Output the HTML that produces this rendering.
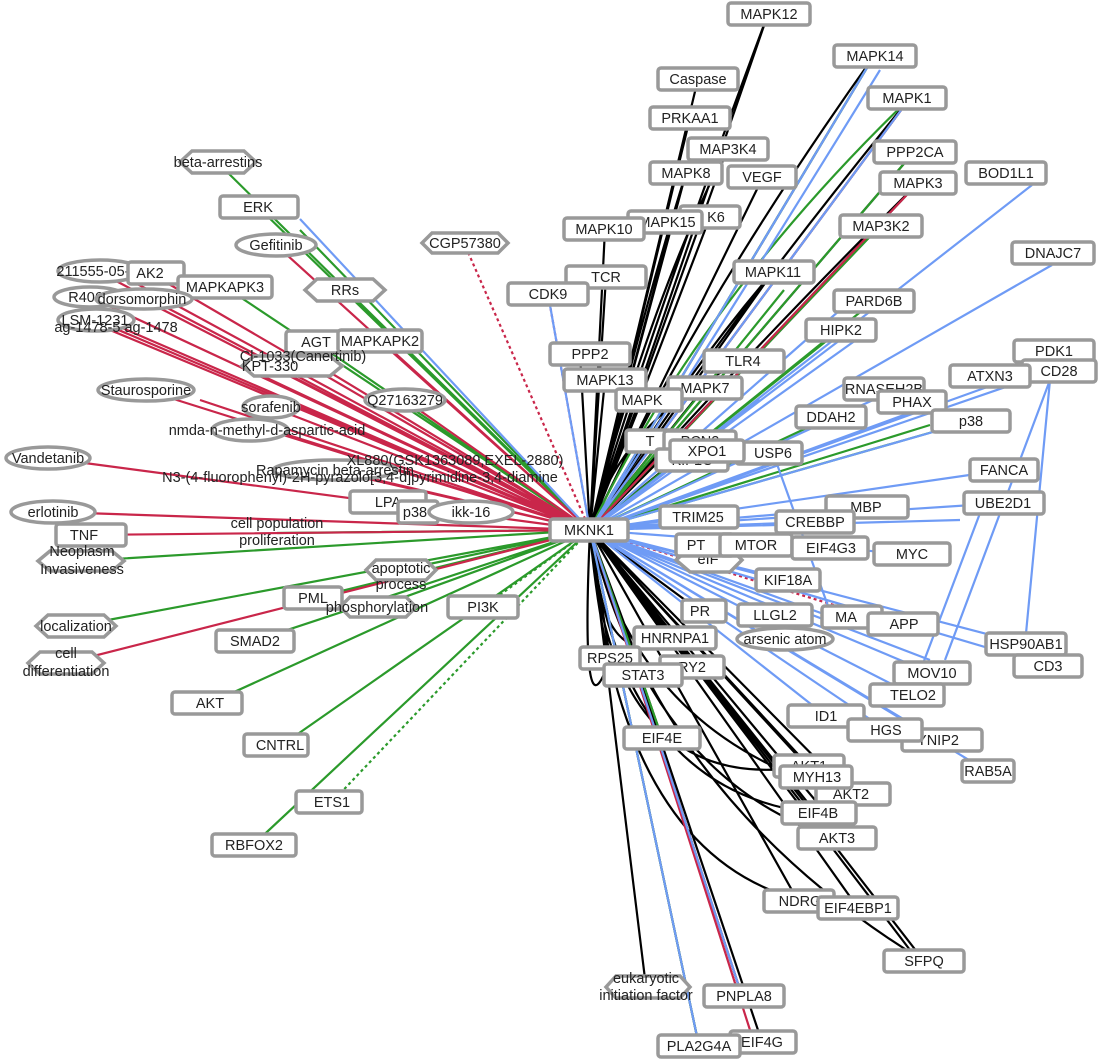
<!DOCTYPE html>
<html><head><meta charset="utf-8"><style>
html,body{margin:0;padding:0;background:#fff;}
svg{display:block;font-family:"Liberation Sans",sans-serif;font-size:14.5px;}
.n rect,.n ellipse,.n polygon{fill:#fff;stroke:#999;stroke-width:3.5;}
.n rect{rx:3;}
text{text-anchor:middle;fill:#222;}
</style></head><body>
<svg width="1099" height="1060" viewBox="0 0 1099 1060">
<g fill="none" stroke-width="2.2">
<path stroke="#000" d="M590 530L768 14M590 530L874 56M590 530L698 79M590 530L910 98M590 530L690 118M590 530L727 149M590 530L914 152M590 530L686 173M590 530L763 177M590 530L918 183M590 530L710 217M590 530L672 222M590 530L605 229M590 530L880 226M590 530L606 277M590 530L773 272M590 530L580 354M590 530L605 380M590 530L642 400M590 530L704 388M590 530L700 440M590 530L660 460M590 530L675 638M590 530L610 658M590 530L692 667M590 530L643 675M590 530L809 766M590 530L817 777M590 530L851 794M590 530L813 813M590 530L836 838M590 530L798 901M590 530L858 908M590 530L924 961M590 530L646 987M590 530L742 996M590 530L699 1046M590 530L762 1042M590 530L700 611M590 530L662 738M590 530L840 830M590 530L910 950
M590 530Q700 300 874 56M590 530Q720 330 910 98M590 530Q740 360 918 183M590 530Q730 380 880 226M590 530Q680 380 773 272M590 530Q650 330 768 14M590 530Q640 320 686 173M590 530Q650 300 727 149M590 530Q620 420 743 361M590 530Q610 800 809 766M590 530Q640 740 851 794M590 530Q620 790 813 813M590 530Q650 780 836 838M590 530Q660 800 924 961M590 530Q620 900 858 908M590 530Q600 680 675 638M590 530Q580 750 610 658M590 530Q640 600 692 667"/>
<path stroke="#2b9a2b" d="M590 530L217 162M590 530L258 207M590 530L225 287M590 530L345 290M590 530L315 342M590 530L874 56M590 530L914 152M590 530L880 226M590 530L874 301M590 530L840 330M590 530L82 561M590 530L277 533M590 530L76 626M590 530L254 641M590 530L210 703M590 530L282 745M590 530L253 845M590 530L313 598M590 530L377 607M590 530L401 570M590 530L971 421M590 530L830 417M590 530L699 1046M590 530L662 738M590 530L784 290M590 530L930 425M590 530L300 230M590 530Q700 300 910 98"/>
<path stroke="#2b9a2b" stroke-dasharray="3,3" d="M590 530L332 802M590 530L483 607"/>
<path stroke="#c9264a" d="M590 530L150 273M590 530L97 271M590 530L90 297M590 530L142 299M590 530L95 320M590 530L120 327M590 530L145 390M590 530L271 407M590 530L267 430M590 530L47 458M590 530L53 512M590 530L84 535M590 530L360 477M590 530L303 356M590 530L270 366M590 530L276 245M590 530L380 341M590 530L66 663M590 530L405 400M590 530L918 183M590 530L910 98M590 530L742 996M590 530L750 1030M590 530L335 470M590 530L110 330M590 530L130 280M590 530L200 400M590 530L250 370"/>
<path stroke="#c9264a" stroke-dasharray="3,3" d="M590 530L464 243M590 530L548 294M590 530L850 610"/>
<path stroke="#6f9bf5" d="M590 530L300 219M590 530L874 56M590 530L910 98M590 530L1032 185M590 530L1052 265M590 530L548 294M590 530L840 340M590 530L870 330M590 530L1055 370M590 530L990 386M590 530L884 395M590 530L912 412M590 530L940 430M590 530L1004 470M590 530L1003 503M590 530L867 507M590 530L697 517M590 530L813 522M590 530L831 548M590 530L911 554M590 530L788 580M590 530L908 624M590 530L1025 644M590 530L931 673M590 530L1049 666M590 530L913 695M590 530L826 716M590 530L886 730M590 530L938 740M590 530L987 771M590 530L742 996M590 530L699 1046M590 530L832 617M590 530L774 615M590 530L930 660M1050 380L1025 644M1050 380L945 660M985 500L913 690M773 453L832 617M590 530Q720 330 880 70M590 530L840 310M590 530L760 400M590 530L960 520"/>
</g>
<g class="n">
<rect x="728" y="3" width="82" height="22"/><text x="769" y="19">MAPK12</text>
<rect x="834" y="45" width="82" height="22"/><text x="875" y="61">MAPK14</text>
<rect x="658" y="68" width="80" height="22"/><text x="698" y="84">Caspase</text>
<rect x="868" y="87" width="78" height="22"/><text x="907" y="103">MAPK1</text>
<rect x="650" y="107" width="80" height="22"/><text x="690" y="123">PRKAA1</text>
<rect x="688" y="138" width="80" height="22"/><text x="728" y="154">MAP3K4</text>
<rect x="874" y="141" width="82" height="22"/><text x="915" y="157">PPP2CA</text>
<polygon points="180,162 192,151 244,151 256,162 244,173 192,173"/><text x="218" y="167">beta-arrestins</text>
<rect x="728" y="166" width="68" height="22"/><text x="762" y="182">VEGF</text>
<rect x="650" y="162" width="72" height="22"/><text x="686" y="178">MAPK8</text>
<rect x="880" y="172" width="76" height="22"/><text x="918" y="188">MAPK3</text>
<rect x="966" y="162" width="80" height="22"/><text x="1006" y="178">BOD1L1</text>
<rect x="220" y="196" width="78" height="22"/><text x="258" y="212">ERK</text>
<rect x="680" y="206" width="60" height="22"/><text x="716" y="222">K6</text>
<rect x="628" y="211" width="74" height="22"/><text x="667" y="227">MAPK15</text>
<rect x="564" y="218" width="80" height="22"/><text x="604" y="234">MAPK10</text>
<rect x="840" y="215" width="82" height="22"/><text x="881" y="231">MAP3K2</text>
<polygon points="422,243 432,233 498,233 508,243 498,253 432,253"/><text x="465" y="248">CGP57380</text>
<ellipse cx="276" cy="245" rx="40" ry="11"/><text x="276" y="250">Gefitinib</text>
<rect x="1012" y="242" width="82" height="22"/><text x="1053" y="258">DNAJC7</text>
<ellipse cx="100" cy="271" rx="42" ry="11"/><text x="97" y="276">211555-05-4</text>
<rect x="128" y="262" width="56" height="22"/><text x="150" y="278">AK2</text>
<rect x="566" y="266" width="80" height="22"/><text x="606" y="282">TCR</text>
<rect x="734" y="261" width="80" height="22"/><text x="773" y="277">MAPK11</text>
<rect x="178" y="276" width="94" height="22"/><text x="225" y="292">MAPKAPK3</text>
<polygon points="305,290 317,279 373,279 385,290 373,301 317,301"/><text x="345" y="295">RRs</text>
<rect x="508" y="283" width="80" height="22"/><text x="548" y="299">CDK9</text>
<ellipse cx="90" cy="297" rx="36" ry="10"/><text x="88" y="302">R406(</text>
<ellipse cx="144" cy="299" rx="48" ry="10"/><text x="142" y="304">dorsomorphin</text>
<rect x="834" y="290" width="80" height="22"/><text x="874" y="306">PARD6B</text>
<ellipse cx="96" cy="320" rx="38" ry="11"/><text x="95" y="325">LSM-1231</text>
<text x="116" y="332">ag-1478-5      ag-1478</text>
<rect x="806" y="319" width="70" height="22"/><text x="841" y="335">HIPK2</text>
<rect x="286" y="331" width="58" height="22"/><text x="316" y="347">AGT</text>
<rect x="338" y="330" width="84" height="22"/><text x="380" y="346">MAPKAPK2</text>
<rect x="1014" y="340" width="80" height="22"/><text x="1054" y="356">PDK1</text>
<rect x="1022" y="360" width="74" height="22"/><text x="1059" y="376">CD28</text>
<polygon points="242,366 254,356 330,356 342,366 330,376 254,376"/><text x="270" y="371">KPT-330</text>
<text x="303" y="361">Cl-1033(Canertinib)</text>
<rect x="550" y="343" width="80" height="22"/><text x="590" y="359">PPP2</text>
<rect x="704" y="350" width="80" height="22"/><text x="743" y="366">TLR4</text>
<rect x="564" y="369" width="82" height="22"/><text x="605" y="385">MAPK13</text>
<rect x="668" y="377" width="74" height="22"/><text x="705" y="393">MAPK7</text>
<rect x="844" y="378" width="80" height="22"/><text x="884" y="394">RNASEH2B</text>
<rect x="950" y="365" width="80" height="22"/><text x="990" y="381">ATXN3</text>
<ellipse cx="146" cy="390" rx="48" ry="11"/><text x="146" y="395">Staurosporine</text>
<rect x="878" y="391" width="68" height="22"/><text x="912" y="407">PHAX</text>
<rect x="616" y="389" width="66" height="22"/><text x="642" y="405">MAPK</text>
<ellipse cx="405" cy="400" rx="40" ry="11"/><text x="405" y="405">Q27163279</text>
<ellipse cx="271" cy="407" rx="28" ry="11"/><text x="271" y="412">sorafenib</text>
<rect x="932" y="410" width="78" height="22"/><text x="971" y="426">p38</text>
<ellipse cx="250" cy="430" rx="38" ry="11"/><text x="267" y="435">nmda-n-methyl-d-aspartic-acid</text>
<rect x="796" y="406" width="70" height="22"/><text x="831" y="422">DDAH2</text>
<rect x="626" y="430" width="60" height="22"/><text x="650" y="446">T</text>
<rect x="664" y="431" width="72" height="22"/><text x="700" y="446">PCN2</text>
<rect x="656" y="449" width="72" height="22"/><text x="692" y="465">KIF1C</text>
<rect x="736" y="442" width="66" height="22"/><text x="773" y="458">USP6</text>
<rect x="670" y="440" width="74" height="22"/><text x="707" y="456">XPO1</text>
<ellipse cx="48" cy="458" rx="42" ry="11"/><text x="48" y="463">Vandetanib</text>
<ellipse cx="335" cy="470" rx="62" ry="10"/><text x="455" y="465">XL880(GSK1363089,EXEL-2880)</text>
<text x="335" y="475">Rapamycin beta-arrestin</text>
<text x="360" y="482">N3-(4-fluorophenyl)-2H-pyrazolo[3,4-d]pyrimidine-3,4-diamine</text>
<rect x="970" y="459" width="68" height="22"/><text x="1004" y="475">FANCA</text>
<rect x="350" y="491" width="76" height="22"/><text x="388" y="507">LPA</text>
<rect x="964" y="492" width="80" height="22"/><text x="1003" y="508">UBE2D1</text>
<rect x="826" y="496" width="82" height="22"/><text x="866" y="512">MBP</text>
<rect x="398" y="501" width="40" height="22"/><text x="415" y="517">p38</text>
<ellipse cx="471" cy="512" rx="42" ry="11"/><text x="471" y="517">ikk-16</text>
<ellipse cx="53" cy="512" rx="42" ry="11"/><text x="53" y="517">erlotinib</text>
<rect x="660" y="506" width="78" height="22"/><text x="698" y="522">TRIM25</text>
<rect x="776" y="511" width="78" height="22"/><text x="815" y="527">CREBBP</text>
<rect x="550" y="519" width="78" height="22"/><text x="589" y="535">MKNK1</text>
<text x="277" y="528">cell population</text><text x="277" y="545">proliferation</text>
<rect x="56" y="524" width="70" height="22"/><text x="84" y="540">TNF</text>
<polygon points="676,560 690,548 730,548 742,560 730,572 690,572"/><text x="708" y="564">eIF</text>
<rect x="676" y="534" width="58" height="22"/><text x="696" y="550">PT</text>
<rect x="720" y="534" width="72" height="22"/><text x="756" y="550">MTOR</text>
<rect x="792" y="537" width="76" height="22"/><text x="831" y="553">EIF4G3</text>
<rect x="874" y="543" width="76" height="22"/><text x="912" y="559">MYC</text>
<polygon points="38,561 50,551 112,551 124,561 112,571 50,571"/><text x="82" y="556">Neoplasm</text><text x="82" y="574">Invasiveness</text>
<polygon points="366,570 376,560 426,560 436,570 426,580 376,580"/><text x="401" y="573">apoptotic</text><text x="401" y="589">process</text>
<rect x="756" y="569" width="64" height="22"/><text x="788" y="585">KIF18A</text>
<rect x="284" y="587" width="58" height="22"/><text x="313" y="603">PML</text>
<polygon points="340,607 350,597 406,597 416,607 406,617 350,617"/><text x="377" y="612">phosphorylation</text>
<rect x="448" y="596" width="70" height="22"/><text x="483" y="612">PI3K</text>
<polygon points="36,626 48,615 104,615 116,626 104,637 48,637"/><text x="76" y="631">localization</text>
<rect x="682" y="600" width="44" height="22"/><text x="700" y="616">PR</text>
<rect x="738" y="604" width="74" height="22"/><text x="775" y="620">LLGL2</text>
<rect x="822" y="606" width="60" height="22"/><text x="846" y="622">MA</text>
<rect x="868" y="613" width="70" height="22"/><text x="904" y="629">APP</text>
<ellipse cx="785" cy="639" rx="48" ry="11"/><text x="785" y="644">arsenic atom</text>
<rect x="216" y="630" width="78" height="22"/><text x="255" y="646">SMAD2</text>
<rect x="634" y="627" width="82" height="22"/><text x="675" y="643">HNRNPA1</text>
<rect x="986" y="633" width="80" height="22"/><text x="1026" y="649">HSP90AB1</text>
<polygon points="28,663 40,652 92,652 104,663 92,674 40,674"/><text x="66" y="658">cell</text><text x="66" y="676">differentiation</text>
<rect x="580" y="647" width="60" height="22"/><text x="610" y="663">RPS25</text>
<rect x="660" y="656" width="64" height="22"/><text x="692" y="672">RY2</text>
<rect x="604" y="664" width="78" height="22"/><text x="643" y="680">STAT3</text>
<rect x="1014" y="655" width="68" height="22"/><text x="1048" y="671">CD3</text>
<rect x="894" y="662" width="76" height="22"/><text x="932" y="678">MOV10</text>
<rect x="870" y="684" width="74" height="22"/><text x="913" y="700">TELO2</text>
<rect x="172" y="692" width="70" height="22"/><text x="210" y="708">AKT</text>
<rect x="788" y="705" width="76" height="22"/><text x="826" y="721">ID1</text>
<rect x="902" y="729" width="80" height="22"/><text x="938" y="745">YNIP2</text>
<rect x="848" y="719" width="74" height="22"/><text x="886" y="735">HGS</text>
<rect x="624" y="727" width="76" height="22"/><text x="662" y="743">EIF4E</text>
<rect x="244" y="734" width="64" height="22"/><text x="280" y="750">CNTRL</text>
<rect x="962" y="760" width="52" height="22"/><text x="988" y="776">RAB5A</text>
<rect x="774" y="755" width="70" height="22"/><text x="809" y="771">AKT1</text>
<rect x="816" y="783" width="74" height="22"/><text x="851" y="799">AKT2</text>
<rect x="780" y="766" width="72" height="22"/><text x="817" y="782">MYH13</text>
<rect x="296" y="791" width="66" height="22"/><text x="332" y="807">ETS1</text>
<rect x="782" y="802" width="74" height="22"/><text x="818" y="818">EIF4B</text>
<rect x="212" y="834" width="84" height="22"/><text x="254" y="850">RBFOX2</text>
<rect x="798" y="827" width="78" height="22"/><text x="837" y="843">AKT3</text>
<rect x="764" y="890" width="70" height="22"/><text x="800" y="906">NDRG</text>
<rect x="818" y="897" width="80" height="22"/><text x="858" y="913">EIF4EBP1</text>
<rect x="884" y="950" width="80" height="22"/><text x="924" y="966">SFPQ</text>
<polygon points="606,987 616,976 680,976 690,987 680,998 616,998"/><text x="646" y="983">eukaryotic</text><text x="646" y="1000">initiation factor</text>
<rect x="704" y="985" width="80" height="22"/><text x="744" y="1001">PNPLA8</text>
<rect x="730" y="1031" width="66" height="22"/><text x="762" y="1047">EIF4G</text>
<rect x="658" y="1035" width="82" height="22"/><text x="699" y="1051">PLA2G4A</text>
</g>
</svg>
</body></html>
